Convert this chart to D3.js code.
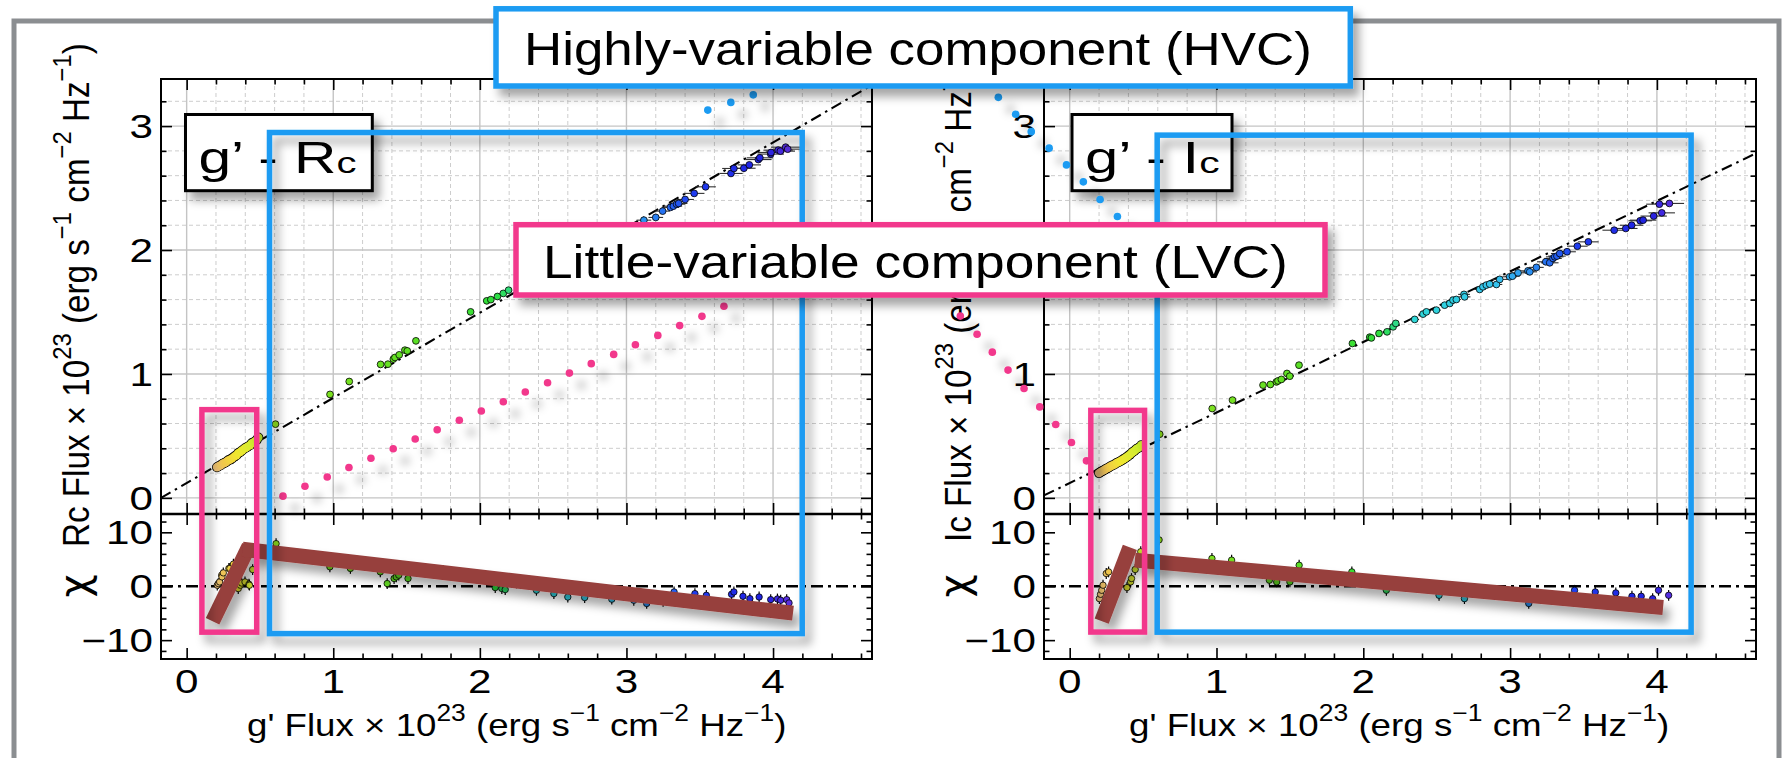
<!DOCTYPE html>
<html>
<head>
<meta charset="utf-8">
<script src="https://cdn.jsdelivr.net/npm/d3@7"></script>
<style>
  body { margin: 0; background: #fff; overflow: hidden; }
  text { font-family: "Liberation Sans", Arial, Helvetica, sans-serif; white-space: pre; }
</style>
</head>
<body>
<svg id="fig"></svg>
<script>
// fluxes are in units of 1e-23 erg s-1 cm-2 Hz-1
const xDomain = [-0.175, 4.675];
const fluxDomain = [-0.13, 3.38];
const chiDomain = [-13.5, 13.4];
const xTickVals = [0, 1, 2, 3, 4];
const fluxTickVals = [0, 1, 2, 3];
const chiTickVals = [-10, 0, 10];

// fitted lines: [intercept, slope]
const rcFit = [0.12, 0.687];
const icFit = [0.12, 0.569];

// g' - Rc observations: [g', Rc, g' error]
const rcPoints = [
  [0.207,0.247,0.01],[0.218,0.256,0.01],[0.232,0.263,0.01],[0.245,0.275,0.01],[0.258,0.281,0.01],
  [0.27,0.29,0.01],[0.284,0.303,0.01],[0.297,0.309,0.01],[0.31,0.319,0.01],[0.325,0.333,0.01],
  [0.34,0.344,0.01],[0.352,0.361,0.01],[0.366,0.371,0.01],[0.38,0.384,0.01],[0.398,0.4,0.01],
  [0.413,0.411,0.01],[0.432,0.425,0.01],[0.445,0.442,0.01],[0.46,0.451,0.01],[0.477,0.466,0.01],
  [0.489,0.487,0.01],
  [0.606,0.595,0.01],[0.978,0.835,0.01],[1.109,0.939,0.01],[1.323,1.077,0.01],[1.373,1.079,0.01],
  [1.41,1.12,0.01],[1.421,1.133,0.01],[1.45,1.154,0.01],[1.489,1.192,0.01],[1.505,1.186,0.01],
  [1.564,1.267,0.01],[1.937,1.501,0.02],[2.047,1.59,0.02],[2.075,1.6,0.02],[2.12,1.625,0.02],
  [2.16,1.65,0.02],[2.196,1.676,0.02],
  [3.119,2.241,0.05],[3.2,2.263,0.05],[3.247,2.314,0.05],[3.3,2.344,0.06],[3.32,2.354,0.06],
  [3.342,2.37,0.06],[3.356,2.376,0.06],[3.4,2.408,0.06],[3.462,2.457,0.07],[3.54,2.51,0.07],
  [3.713,2.618,0.08],[3.733,2.658,0.08],[3.801,2.66,0.08],[3.838,2.687,0.08],[3.9,2.73,0.09],
  [3.91,2.744,0.09],[3.984,2.774,0.09],[3.986,2.787,0.09],[4.035,2.806,0.1],[4.05,2.798,0.1],
  [4.086,2.83,0.1],[4.1,2.814,0.1]
];

// g' - Ic observations: [g', Ic, g' error]
const icPoints = [
  [0.2,0.2,0.01],[0.212,0.21,0.01],[0.225,0.218,0.01],[0.238,0.227,0.01],[0.25,0.236,0.01],
  [0.263,0.243,0.01],[0.276,0.253,0.01],[0.29,0.262,0.01],[0.305,0.27,0.01],[0.32,0.281,0.01],
  [0.335,0.29,0.01],[0.35,0.3,0.01],[0.365,0.311,0.01],[0.38,0.322,0.01],[0.395,0.335,0.01],
  [0.41,0.349,0.01],[0.425,0.366,0.01],[0.44,0.379,0.01],[0.455,0.394,0.01],[0.47,0.405,0.01],
  [0.488,0.425,0.01],
  [0.613,0.514,0.01],[0.971,0.721,0.01],[1.109,0.789,0.01],[1.317,0.91,0.01],[1.367,0.915,0.01],
  [1.408,0.936,0.01],[1.419,0.944,0.01],[1.442,0.956,0.01],[1.48,1.004,0.01],[1.499,0.982,0.01],
  [1.562,1.071,0.01],[1.926,1.246,0.02],[2.044,1.297,0.02],[2.055,1.291,0.02],[2.107,1.327,0.02],
  [2.162,1.34,0.02],[2.203,1.38,0.02],[2.221,1.408,0.02],
  [2.35,1.44,0.03],[2.407,1.483,0.03],[2.43,1.501,0.03],[2.498,1.515,0.03],[2.554,1.555,0.03],
  [2.589,1.569,0.03],[2.611,1.596,0.03],[2.634,1.601,0.03],[2.686,1.642,0.04],[2.69,1.622,0.04],
  [2.793,1.682,0.04],[2.815,1.703,0.04],[2.838,1.717,0.04],[2.861,1.725,0.04],[2.907,1.722,0.04],
  [2.929,1.763,0.05],[2.997,1.784,0.05],[3.016,1.789,0.05],[3.054,1.816,0.05],[3.122,1.832,0.05],
  [3.134,1.824,0.05],[3.179,1.86,0.05],[3.243,1.905,0.06],[3.27,1.897,0.06],[3.292,1.932,0.06],
  [3.304,1.945,0.06],[3.319,1.951,0.06],[3.338,1.972,0.06],[3.388,1.986,0.06],[3.458,2.031,0.07],
  [3.533,2.066,0.07],
  [3.709,2.16,0.08],[3.788,2.174,0.08],[3.828,2.2,0.08],[3.886,2.236,0.08],[3.906,2.241,0.09],
  [3.978,2.274,0.09],[4.033,2.3,0.09],[4.017,2.37,0.09],[4.085,2.376,0.1]
];

// residuals: [g', chi]
const rcChi = [
  [0.209,0.19],[0.216,0.5],[0.225,0.8],[0.239,2.05],[0.241,1.73],[0.25,2.48],[0.288,3.3],[0.295,3.3],
  [0.319,4.1],[0.352,-0.43],[0.366,0.19],[0.375,0.6],[0.398,0.8],[0.425,0.37],[0.428,0.19],[0.45,3.1],
  [0.61,7.9],[0.8,5.6],[0.977,3.6],[1.117,3.3],[1.2,4.4],[1.321,2.66],[1.368,0.5],[1.415,1.43],
  [1.43,1.73],[1.447,2.05],[1.51,1.43],[1.75,2.9],[1.95,2.1],[2.105,-0.25],[2.15,-0.43],[2.173,-0.62],
  [2.25,0.6],[2.386,-0.75],[2.505,-1.37],[2.6,-2.0],[2.715,-2.1],[2.9,-2.4],[3.05,-2.6],[3.138,-3.2],
  [3.25,-2.8],[3.325,-1.06],
  [3.467,-1.37],[3.545,-1.68],[3.717,-1.49],[3.733,-1.06],[3.795,-1.86],[3.842,-2.3],[3.905,-2.0],
  [3.984,-2.48],[4.03,-2.36],[4.052,-2.6],[4.093,-2.48],[4.109,-3.1]
];
const icChi = [
  [0.202,-2.3],[0.21,-1.5],[0.218,-0.75],[0.227,0.19],[0.249,2.36],[0.265,2.66],[0.39,-0.25],
  [0.415,0.8],[0.421,1.43],[0.446,3.1],[0.484,6.4],
  [0.609,8.6],[0.969,5.15],[1.103,4.84],[1.36,1.12],[1.41,0.8],[1.5,0.8],[1.563,3.9],[1.922,2.66],
  [2.157,-0.75],[2.516,-1.68],[2.689,-2.3],
  [3.127,-3.2],[3.439,-0.75],[3.58,-1.06],[3.72,-1.24],[3.83,-1.86],[3.893,-1.86],[3.971,-2.3],
  [4.011,-0.75],[4.08,-1.68]
];

// sketched component spectra: [g', band flux]
const rcLvcDots = [
  [0.657,0.014],[0.807,0.094],[0.959,0.169],[1.107,0.245],[1.257,0.32],[1.409,0.397],[1.559,0.475],
  [1.709,0.55],[1.86,0.627],[2.01,0.701],[2.16,0.776],[2.31,0.854],[2.462,0.929],[2.611,1.007],
  [2.76,1.083],[2.913,1.158],[3.061,1.236],[3.214,1.311],[3.363,1.39],[3.515,1.465],[3.665,1.546]
];
const rcHvcDots = [[3.555,3.129],[3.712,3.191],[3.865,3.252]];
const icLvcDots = [
  [-0.745,1.467],[-0.631,1.321],[-0.527,1.176],[-0.42,1.031],[-0.311,0.883],[-0.204,0.734],
  [-0.095,0.592],[0.012,0.447],[0.114,0.299]
];
const icHvcDots = [
  [-0.486,3.232],[-0.368,3.095],[-0.262,2.955],[-0.14,2.822],[-0.022,2.687],[0.093,2.55],
  [0.207,2.408],[0.325,2.27]
];

// highlighted regions: [g' from, g' to, flux top, chi bottom]
const rcLvcRegion = [0.104, 0.478, 0.712, -8.52];
const rcHvcRegion = [0.565, 4.199, 2.948, -8.79];
const icLvcRegion = [0.144, 0.51, 0.706, -8.5];
const icHvcRegion = [0.596, 4.233, 2.927, -8.52];

// residual trends: pairs of [g', chi]
const rcTrend = [[[0.177,-6.48],[0.425,7.4]], [[0.381,6.85],[4.136,-4.99]]];
const icTrend = [[[0.218,-6.48],[0.41,7.2]], [[0.444,4.84],[4.042,-3.95]]];

const W = 1787, H = 758;
const Y0 = 79, YM = 514, Y1 = 659;
const PINK = "#f2378c", BLUE = "#1a9bf2", BROWN = "#973f3c";

const timeColor = d3.scaleLinear()
  .domain([0.2, 0.27, 0.35, 0.45, 0.6, 1.5, 2.1, 2.35, 2.9, 3.15, 3.45, 3.95, 4.1])
  .range(["#e3b878","#f1c84a","#f2e630","#d6ec30","#8fe21e","#5fe024","#2ede3a",
          "#2ed8d8","#34c4ee","#2a8cf2","#1f3df0","#2020e0","#5a2fe0"]);

const panels = [
  { id: "rc", band: "Rc", x0: 161, x1: 872, pts: rcPoints, chi: rcChi, fit: rcFit,
    lvcDots: rcLvcDots, hvcDots: rcHvcDots, lvc: rcLvcRegion, hvc: rcHvcRegion, trend: rcTrend,
    ylabX: 89, ylabY: 547, chiX: 88, xlabX: 247, xlabW: 539.5,
    tag: [185.5, 114.5, 186.8, 76.2], tagText: "g’ - R", tagW: 158 },
  { id: "ic", band: "Ic", x0: 1044, x1: 1756, pts: icPoints, chi: icChi, fit: icFit,
    lvcDots: icLvcDots, hvcDots: icHvcDots, lvc: icLvcRegion, hvc: icHvcRegion, trend: icTrend,
    ylabX: 971, ylabY: 542, chiX: 968, xlabX: 1129, xlabW: 540.5,
    tag: [1072, 114.5, 160, 76.2], tagText: "g’ - I", tagW: 134.6 }
];

const svg = d3.select("#fig").attr("width", W).attr("height", H);
const defs = svg.append("defs");

function addShadow(id, dx, dy, sd, op) {
  defs.append("filter").attr("id", id).attr("filterUnits", "userSpaceOnUse")
      .attr("x", 0).attr("y", 0).attr("width", W).attr("height", H)
    .append("feDropShadow").attr("dx", dx).attr("dy", dy).attr("stdDeviation", sd)
      .attr("flood-color", "#000").attr("flood-opacity", op);
}
addShadow("boxShadow", 6, 8, 5, 0.35);
addShadow("dotShadow", 12, 12, 4, 0.3);

svg.append("rect").attr("width", W).attr("height", H).attr("fill", "#fff");
svg.append("rect").attr("x", 14).attr("y", 21).attr("width", 1765).attr("height", 800)
  .attr("fill", "none").attr("stroke", "#8b8e91").attr("stroke-width", 5);

// stretch a text horizontally so it covers the given width
function fitWidth(g, t, width, tx, ty, rot) {
  const s = width / t.node().getBBox().width;
  g.attr("transform", `translate(${tx},${ty})` + (rot ? ` rotate(${rot})` : "") + ` scale(${s},1)`);
  return s;
}

function fluxLabel(parent, lead, size) {
  const t = parent.append("text").attr("font-size", size).attr("fill", "#000");
  const rise = size * 0.48;
  const parts = [[lead + " Flux × 10", 0], ["23", 1], [" (erg s", 0], ["−1", 1], [" cm", 0],
                 ["−2", 1], [" Hz", 0], ["−1", 1], [")", 0]];
  let up = false;
  parts.forEach(([s, sup]) => {
    const ts = t.append("tspan").text(s);
    if (sup) { ts.attr("font-size", size * 0.72); if (!up) ts.attr("dy", -rise); up = true; }
    else if (up) { ts.attr("dy", rise); up = false; }
  });
  return t;
}

function tickGroup(g, axis, tx, ty) {
  g.append("g").attr("transform", `translate(${tx},${ty})`).call(axis)
    .call(s => s.select(".domain").remove())
    .call(s => s.selectAll("line").attr("stroke", "#000").attr("stroke-width", 1.6));
}

const minorOf = (a, b, step) => d3.range(a, b, step).filter(v => Math.abs(v - Math.round(v)) > 1e-6);
const xMinor = minorOf(0.2, 4.7, 0.2);
const yMinor = minorOf(0.2, 3.3, 0.2);
const cMinor = d3.range(-12, 13, 2).filter(v => v % 10 !== 0);

let ylabScale = null;

function drawPanel(p) {
  const x = d3.scaleLinear().domain(xDomain).range([p.x0, p.x1]);
  const y = d3.scaleLinear().domain(fluxDomain).range([YM, Y0]);
  const c = d3.scaleLinear().domain(chiDomain).range([Y1, YM]);
  p.x = x; p.y = y; p.c = c;
  const g = svg.append("g");

  defs.append("clipPath").attr("id", "clip-" + p.id).append("rect")
    .attr("x", p.x0).attr("y", Y0).attr("width", p.x1 - p.x0).attr("height", YM - Y0);
  defs.append("clipPath").attr("id", "rclip-" + p.id).append("rect")
    .attr("x", p.x0).attr("y", YM).attr("width", p.x1 - p.x0).attr("height", Y1 - YM);

  // grid
  const grid = g.append("g");
  grid.selectAll(".vm").data(xMinor).join("line")
    .attr("x1", x).attr("x2", x).attr("y1", Y0).attr("y2", YM)
    .attr("stroke", "#cdcdcd").attr("stroke-width", 1).attr("stroke-dasharray", "4,3");
  grid.selectAll(".hm").data(yMinor).join("line")
    .attr("x1", p.x0).attr("x2", p.x1).attr("y1", y).attr("y2", y)
    .attr("stroke", "#cdcdcd").attr("stroke-width", 1).attr("stroke-dasharray", "4,3");
  grid.selectAll(".vM").data(xTickVals).join("line")
    .attr("x1", x).attr("x2", x).attr("y1", Y0).attr("y2", YM)
    .attr("stroke", "#c4c4c4").attr("stroke-width", 1.4);
  grid.selectAll(".hM").data(fluxTickVals).join("line")
    .attr("x1", p.x0).attr("x2", p.x1).attr("y1", y).attr("y2", y)
    .attr("stroke", "#c4c4c4").attr("stroke-width", 1.4);

  // fit line
  const up = g.append("g").attr("clip-path", `url(#clip-${p.id})`);
  up.append("path")
    .datum(xDomain.map(v => [v, p.fit[0] + p.fit[1] * v]))
    .attr("d", d3.line().x(d => x(d[0])).y(d => y(d[1])))
    .attr("fill", "none").attr("stroke", "#000").attr("stroke-width", 2.1)
    .attr("stroke-dasharray", "11,5,2.5,5");

  up.selectAll(".xe").data(p.pts).join("line")
    .attr("x1", d => x(d[0] - d[2])).attr("x2", d => x(d[0] + d[2]))
    .attr("y1", d => y(d[1])).attr("y2", d => y(d[1]))
    .attr("stroke", "#333").attr("stroke-width", 1.1);
  // the dense early points read as one outlined band
  const early = p.pts.filter(d => d[0] < 0.55);
  up.selectAll(".ptb").data(early).join("circle")
    .attr("cx", d => x(d[0])).attr("cy", d => y(d[1])).attr("r", 5)
    .attr("fill", "#000");
  up.selectAll(".pta").data(early).join("circle")
    .attr("cx", d => x(d[0])).attr("cy", d => y(d[1])).attr("r", 4.2)
    .attr("fill", d => timeColor(d[0]));
  up.selectAll(".pt").data(p.pts.filter(d => d[0] >= 0.55)).join("circle")
    .attr("cx", d => x(d[0])).attr("cy", d => y(d[1])).attr("r", 3.4)
    .attr("fill", d => timeColor(d[0])).attr("stroke", "#000").attr("stroke-width", 0.8);

  // residuals
  const lo = g.append("g").attr("clip-path", `url(#rclip-${p.id})`);
  lo.append("line").attr("x1", p.x0).attr("x2", p.x1).attr("y1", c(0)).attr("y2", c(0))
    .attr("stroke", "#000").attr("stroke-width", 2.5).attr("stroke-dasharray", "12,5,3,5");
  lo.selectAll(".ce").data(p.chi).join("line")
    .attr("x1", d => x(d[0])).attr("x2", d => x(d[0]))
    .attr("y1", d => c(d[1] - 1)).attr("y2", d => c(d[1] + 1))
    .attr("stroke", "#000").attr("stroke-width", 1.2);
  lo.selectAll(".cp").data(p.chi).join("circle")
    .attr("cx", d => x(d[0])).attr("cy", d => c(d[1])).attr("r", 3.2)
    .attr("fill", d => timeColor(d[0])).attr("stroke", "#000").attr("stroke-width", 0.8);

  // frames and inward ticks
  const blank = a => a.tickFormat("");
  tickGroup(g, blank(d3.axisBottom(x).tickValues(xTickVals).tickSize(-11)), 0, YM);
  tickGroup(g, blank(d3.axisBottom(x).tickValues(xMinor).tickSize(-5.5)), 0, YM);
  tickGroup(g, blank(d3.axisTop(x).tickValues(xTickVals).tickSize(-11)), 0, Y0);
  tickGroup(g, blank(d3.axisTop(x).tickValues(xMinor).tickSize(-5.5)), 0, Y0);
  tickGroup(g, blank(d3.axisLeft(y).tickValues(fluxTickVals).tickSize(-11)), p.x0, 0);
  tickGroup(g, blank(d3.axisLeft(y).tickValues(yMinor).tickSize(-5.5)), p.x0, 0);
  tickGroup(g, blank(d3.axisRight(y).tickValues(fluxTickVals).tickSize(-11)), p.x1, 0);
  tickGroup(g, blank(d3.axisRight(y).tickValues(yMinor).tickSize(-5.5)), p.x1, 0);
  tickGroup(g, blank(d3.axisTop(x).tickValues(xTickVals).tickSize(-11)), 0, YM);
  tickGroup(g, blank(d3.axisTop(x).tickValues(xMinor).tickSize(-5.5)), 0, YM);
  tickGroup(g, blank(d3.axisBottom(x).tickValues(xTickVals).tickSize(-11)), 0, Y1);
  tickGroup(g, blank(d3.axisBottom(x).tickValues(xMinor).tickSize(-5.5)), 0, Y1);
  tickGroup(g, blank(d3.axisLeft(c).tickValues(chiTickVals).tickSize(-11)), p.x0, 0);
  tickGroup(g, blank(d3.axisLeft(c).tickValues(cMinor).tickSize(-5.5)), p.x0, 0);
  tickGroup(g, blank(d3.axisRight(c).tickValues(chiTickVals).tickSize(-11)), p.x1, 0);
  tickGroup(g, blank(d3.axisRight(c).tickValues(cMinor).tickSize(-5.5)), p.x1, 0);
  g.append("rect").attr("x", p.x0).attr("y", Y0).attr("width", p.x1 - p.x0).attr("height", Y1 - Y0)
    .attr("fill", "none").attr("stroke", "#000").attr("stroke-width", 2);
  g.append("line").attr("x1", p.x0).attr("x2", p.x1).attr("y1", YM).attr("y2", YM)
    .attr("stroke", "#000").attr("stroke-width", 2.6);

  // tick labels
  const lab = g.append("g").attr("font-size", 33).attr("fill", "#000");
  xTickVals.forEach(v => lab.append("g").attr("transform", `translate(${x(v)},693) scale(1.28,1)`)
    .append("text").attr("text-anchor", "middle").text(v));
  fluxTickVals.forEach(v => lab.append("g").attr("transform", `translate(${p.x0 - 8},${y(v)}) scale(1.28,1)`)
    .append("text").attr("text-anchor", "end").attr("dy", "0.36em").text(v));
  chiTickVals.forEach(v => lab.append("g").attr("transform", `translate(${p.x0 - 8},${c(v)}) scale(1.28,1)`)
    .append("text").attr("text-anchor", "end").attr("dy", "0.36em").text(d3.format("")(v)));

  // axis titles
  const xl = g.append("g");
  fitWidth(xl, fluxLabel(xl, "g'", 32), p.xlabW, p.xlabX, 736);
  const yl = g.append("g");
  const yt = fluxLabel(yl, p.band, 37);
  if (ylabScale === null) ylabScale = fitWidth(yl, yt, 504, p.ylabX, p.ylabY, -90);
  else yl.attr("transform", `translate(${p.ylabX},${p.ylabY}) rotate(-90) scale(${ylabScale},1)`);
  g.append("text").attr("font-size", 40).attr("text-anchor", "middle")
    .style("font-family", "'DejaVu Sans', sans-serif")
    .attr("transform", `translate(${p.chiX},586) rotate(-90)`).text("χ");
}

function drawNotes(p) {
  const { x, y } = p;
  // band tag
  const tg = svg.append("g");
  tg.append("rect").attr("x", p.tag[0]).attr("y", p.tag[1]).attr("width", p.tag[2]).attr("height", p.tag[3])
    .attr("fill", "#fff").attr("stroke", "#000").attr("stroke-width", 3).attr("filter", "url(#boxShadow)");
  const tt = tg.append("g");
  const t = tt.append("text").attr("font-size", 44);
  t.append("tspan").text(p.tagText);
  t.append("tspan").attr("font-size", 30).text("c");
  fitWidth(tt, t, p.tagW, p.tag[0] + 13, 173.3);

  // component spectra
  const dots = svg.append("g").attr("filter", "url(#dotShadow)");
  dots.selectAll(".l").data(p.lvcDots).join("circle")
    .attr("cx", d => x(d[0])).attr("cy", d => y(d[1])).attr("r", 3.8).attr("fill", PINK);
  dots.selectAll(".h").data(p.hvcDots).join("circle")
    .attr("cx", d => x(d[0])).attr("cy", d => y(d[1])).attr("r", 3.8).attr("fill", BLUE);
}

function drawMarks(p) {
  const { x, y, c } = p;
  svg.append("g").attr("filter", "url(#boxShadow)").selectAll("line").data(p.trend).join("line")
    .attr("x1", d => x(d[0][0])).attr("y1", d => c(d[0][1]))
    .attr("x2", d => x(d[1][0])).attr("y2", d => c(d[1][1]))
    .attr("stroke", BROWN).attr("stroke-width", 15).attr("stroke-linecap", "butt");
  [[p.lvc, PINK], [p.hvc, BLUE]].forEach(([r, col]) => {
    svg.append("rect").attr("x", x(r[0])).attr("y", y(r[2]))
      .attr("width", x(r[1]) - x(r[0])).attr("height", c(r[3]) - y(r[2]))
      .attr("fill", "none").attr("stroke", col).attr("stroke-width", 5.5)
      .attr("filter", "url(#boxShadow)");
  });
}

panels.forEach(drawPanel);
panels.forEach(drawNotes);
panels.forEach(drawMarks);

// component titles
function titleBox(bx, by, bw, bh, col, label, tx, ty, tw) {
  const g = svg.append("g");
  g.append("rect").attr("x", bx).attr("y", by).attr("width", bw).attr("height", bh)
    .attr("fill", "#fff").attr("stroke", col).attr("stroke-width", 5.5).attr("filter", "url(#boxShadow)");
  const tg = g.append("g");
  const t = tg.append("text").attr("font-size", 46).text(label);
  fitWidth(tg, t, tw, tx, ty);
}
titleBox(516, 224.7, 809, 70.3, PINK, "Little-variable component (LVC)", 543, 278.3, 745);
titleBox(496, 8.8, 854.3, 77.2, BLUE, "Highly-variable component (HVC)", 524, 65, 788);
</script>
</body>
</html>
